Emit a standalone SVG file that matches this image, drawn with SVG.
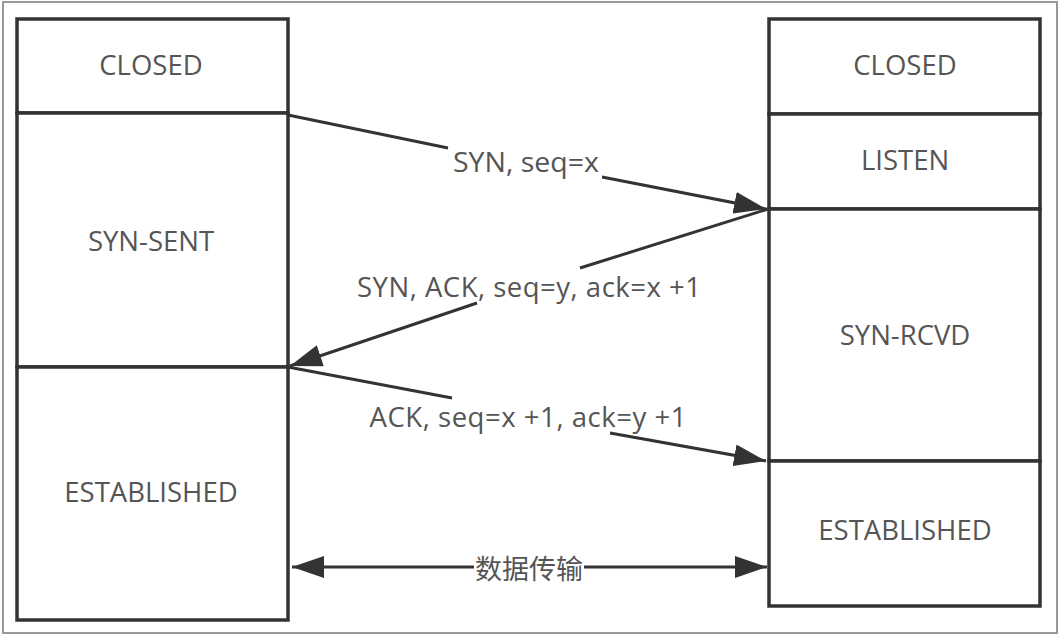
<svg xmlns="http://www.w3.org/2000/svg" width="1064" height="640" viewBox="0 0 1064 640">
<style>
.box{fill:#fff;stroke:#333;stroke-width:3.5}
.lbl{font-family:"Open Sans","Noto Sans",sans-serif;font-size:27.5px;fill:#555;text-anchor:middle}
.cn{font-family:"Noto Sans CJK SC",sans-serif;font-size:27px;fill:#555;text-anchor:middle}
.ln{stroke:#333;stroke-width:3;fill:none}
</style>
<defs>
<marker id="ahb" viewBox="0 0 10 10" refX="10" refY="5" markerWidth="32" markerHeight="22" markerUnits="userSpaceOnUse" orient="auto-start-reverse" preserveAspectRatio="none">
<path d="M0,0 L10,5 L0,10 z" fill="#333"/>
</marker>
</defs>
<rect x="0" y="0" width="1064" height="640" fill="#fff"/>
<rect x="3" y="2" width="1054" height="631" fill="none" stroke="#999" stroke-width="2"/>
<g id="client-closed"><rect class="box" x="17" y="19" width="271" height="94"/><text class="lbl" x="151" y="75">CLOSED</text></g>
<g id="client-synsent"><rect class="box" x="17" y="113" width="271" height="254"/><text class="lbl" x="151" y="251">SYN-SENT</text></g>
<g id="client-established"><rect class="box" x="17" y="367" width="271" height="253"/><text class="lbl" x="151" y="502">ESTABLISHED</text></g>
<g id="server-closed"><rect class="box" x="769" y="19" width="271" height="95"/><text class="lbl" x="905" y="75">CLOSED</text></g>
<g id="server-listen"><rect class="box" x="769" y="114" width="271" height="95"/><text class="lbl" x="905" y="170">LISTEN</text></g>
<g id="server-synrcvd"><rect class="box" x="769" y="209" width="271" height="252"/><text class="lbl" x="905" y="345">SYN-RCVD</text></g>
<g id="server-established"><rect class="box" x="769" y="461" width="271" height="145"/><text class="lbl" x="905" y="540">ESTABLISHED</text></g>
<g id="connectors">
<path class="ln" d="M288,115 L448,148"/>
<path class="ln" d="M602,177 L766,209" marker-end="url(#ahb)"/>
<text class="lbl" x="526" y="172" textLength="146" lengthAdjust="spacingAndGlyphs">SYN, seq=x</text>
<path class="ln" d="M768,209 L580,268"/>
<path class="ln" d="M477,303 L290,366" marker-end="url(#ahb)"/>
<text class="lbl" x="529" y="297" textLength="344" lengthAdjust="spacing">SYN, ACK, seq=y, ack=x +1</text>
<path class="ln" d="M288,367 L452,398"/>
<path class="ln" d="M610,433 L766,461" marker-end="url(#ahb)"/>
<text class="lbl" x="528" y="427" textLength="317" lengthAdjust="spacing">ACK, seq=x +1, ack=y +1</text>
<path class="ln" d="M292,567 L474,567" marker-start="url(#ahb)"/>
<path class="ln" d="M584,567 L767,567" marker-end="url(#ahb)"/>
<text class="cn" x="529" y="579">数据传输</text>
</g>
</svg>
